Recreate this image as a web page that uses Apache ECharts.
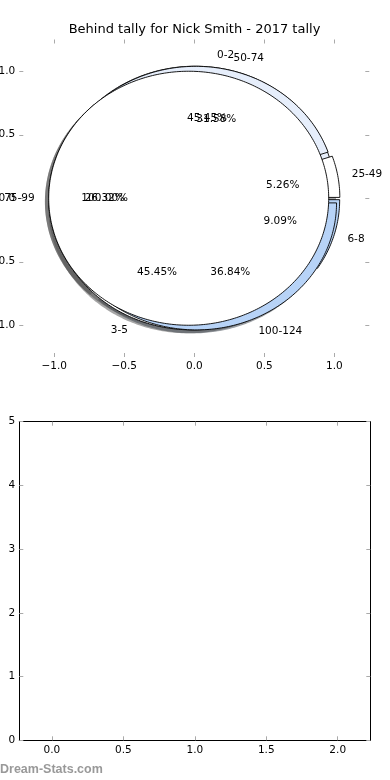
<!DOCTYPE html>
<html><head><meta charset="utf-8">
<script src="https://cdn.jsdelivr.net/npm/echarts@6/dist/echarts.min.js"></script>
<style>html,body{margin:0;padding:0;background:#fff}#c{width:390px;height:780px}</style>
</head><body><div id="c"></div>
<script>
// ---- data ----
const titleText = 'Behind tally for Nick Smith - 2017 tally';
const behindCategories = ['0-2', '3-5', '6-8'];
const behindValues = [5, 5, 1];
const tallyCategories = ['25-49', '50-74', '75-99', '100-124'];
const tallyValues = [1, 6, 5, 7];
const coverCategories = [''];
const coverValues = [1];
const pieTicks = [-1.0, -0.5, 0.0, 0.5, 1.0];
const lowerXTicks = [0.0, 0.5, 1.0, 1.5, 2.0];
const lowerYTicks = [0, 1, 2, 3, 4, 5];

// ---- styles ----
const behindColors = ['#e6eefb', '#ffffff', '#b7d3f7'];
const tallyColors = ['#ffffff', '#e6eefb', '#ffffff', '#b7d3f7'];
const coverColors = ['#ffffff'];
const EXPLODE = 0.04;
const SHADOW = -0.027;
const FONT = 'DejaVu Sans';
const FS = 10.5;
const TICK = '#aaaaaa';

function toWedges(cats, vals, colors) {
  const total = vals.reduce((a, b) => a + b, 0);
  let acc = 0;
  return vals.map((v, i) => {
    const t1 = 360 * acc / total; acc += v;
    const t2 = 360 * acc / total;
    return { cat: cats[i], t1, t2, mid: (t1 + t2) / 2, pct: 100 * v / total, color: colors[i] };
  });
}
const pies = [
  toWedges(behindCategories, behindValues, behindColors),
  toWedges(tallyCategories, tallyValues, tallyColors),
  toWedges(coverCategories, coverValues, coverColors)
];
const rad = Math.PI / 180;

function wedgeSeries(wedges, shadow, z) {
  return {
    type: 'custom', coordinateSystem: 'cartesian2d', xAxisIndex: 0, yAxisIndex: 0,
    clip: false, silent: true, z: z,
    data: wedges.map((w, i) => [0, 0, i]),
    renderItem: function (params, api) {
      const w = wedges[params.dataIndex];
      const off = shadow ? SHADOW : 0;
      const cx = EXPLODE * Math.cos(w.mid * rad) + off;
      const cy = EXPLODE * Math.sin(w.mid * rad) + off;
      const full = (w.t2 - w.t1) >= 359.999;
      const pts = [];
      if (!full) pts.push(api.coord([cx, cy]));
      const n = Math.max(2, Math.ceil(w.t2 - w.t1));
      for (let k = 0; k <= n; k++) {
        const t = (w.t1 + (w.t2 - w.t1) * k / n) * rad;
        pts.push(api.coord([cx + Math.cos(t), cy + Math.sin(t)]));
      }
      let fill = w.color, stroke = '#000', lw = 0.9;
      if (shadow) {
        const c = echarts.color.parse(w.color);
        fill = 'rgba(' + Math.round(c[0] * 0.3) + ',' + Math.round(c[1] * 0.3) + ',' + Math.round(c[2] * 0.3) + ',0.5)';
        stroke = null; lw = 0;
      }
      return { type: 'polygon', shape: { points: pts }, style: { fill: fill, stroke: stroke, lineWidth: lw } };
    }
  };
}

const texts = [];
pies.forEach(ws => ws.forEach(w => {
  const ex = EXPLODE * Math.cos(w.mid * rad), ey = EXPLODE * Math.sin(w.mid * rad);
  const lx = ex + 1.1 * Math.cos(w.mid * rad), ly = ey + 1.1 * Math.sin(w.mid * rad);
  if (w.cat) texts.push({ x: lx, y: ly, text: w.cat, align: lx > 0 ? 'left' : 'right' });
  texts.push({ x: ex + 0.6 * Math.cos(w.mid * rad), y: ey + 0.6 * Math.sin(w.mid * rad), text: w.pct.toFixed(2) + '%', align: 'center' });
}));

const textSeries = {
  type: 'custom', coordinateSystem: 'cartesian2d', xAxisIndex: 0, yAxisIndex: 0,
  clip: false, silent: true, z: 10,
  data: texts.map((t, i) => [0, 0, i]),
  renderItem: function (params, api) {
    const t = texts[params.dataIndex];
    const p = api.coord([t.x, t.y]);
    return { type: 'text', x: p[0], y: p[1], style: { text: t.text, fill: '#000', fontSize: FS, fontFamily: FONT, align: t.align, verticalAlign: 'middle' } };
  }
};

function fmt1(v) { return (v < 0 ? '\u2212' : '') + Math.abs(v).toFixed(1); }
const lab = { color: '#000', fontSize: FS, fontFamily: FONT };

function axisPair(kind, gridIndex, min, max, ticks, formatter, showLine, interval) {
  const base = {
    gridIndex: gridIndex, type: 'value', min: min, max: max,
    splitLine: { show: false },
    axisLine: { show: showLine, onZero: false, lineStyle: { color: '#000', width: 1 } },
    axisTick: { show: true, inside: true, length: 4, lineStyle: { color: TICK, width: 1 } }
  };
  if (interval) base.interval = interval;
  if (ticks) { base.axisTick.customValues = ticks; }
  const a = Object.assign({}, base, {
    position: kind === 'x' ? 'bottom' : 'left',
    axisLabel: Object.assign({ show: true, margin: 4, formatter: formatter, hideOverlap: false }, lab, ticks ? { customValues: ticks } : {})
  });
  const b = Object.assign({}, base, {
    position: kind === 'x' ? 'top' : 'right',
    axisLabel: Object.assign({ show: false }, ticks ? { customValues: ticks } : {})
  });
  b.axisTick = Object.assign({}, base.axisTick);
  return [a, b];
}

const xA = axisPair('x', 0, -1.25, 1.25, pieTicks, fmt1, false);
const yA = axisPair('y', 0, -1.25, 1.25, pieTicks, fmt1, false);
const xB = axisPair('x', 1, -0.228, 2.228, lowerXTicks, v => v.toFixed(1), true);
const yB = axisPair('y', 1, 0, 5, null, v => String(v), true, 1);

const chart = echarts.init(document.getElementById('c'), null, { renderer: 'canvas' });
chart.setOption({
  animation: false,
  backgroundColor: '#fff',
  grid: [
    { left: 19.3, top: 39.5, width: 350, height: 317.5, containLabel: false, outerBoundsMode: 'none' },
    { left: 19.3, top: 421.7, width: 351, height: 318.6, containLabel: false, outerBoundsMode: 'none' }
  ],
  xAxis: [xA[0], xA[1], xB[0], xB[1]],
  yAxis: [yA[0], yA[1], yB[0], yB[1]],
  graphic: [
    { type: 'text', x: 194.5, y: 30, style: { text: titleText, fontSize: 13, fontFamily: FONT, fill: '#000', align: 'center', verticalAlign: 'middle' } },
    { type: 'text', x: 0, y: 770, style: { text: 'Dream-Stats.com', fontSize: 12.5, fontWeight: 'bold', fontFamily: 'Liberation Sans', fill: '#999999', align: 'left', verticalAlign: 'middle' } }
  ],
  series: [
    wedgeSeries(pies[0], true, 1),
    wedgeSeries(pies[1], true, 1),
    wedgeSeries(pies[2], true, 1),
    wedgeSeries(pies[0], false, 2),
    wedgeSeries(pies[1], false, 3),
    wedgeSeries(pies[2], false, 4),
    textSeries
  ]
});
</script></body></html>
